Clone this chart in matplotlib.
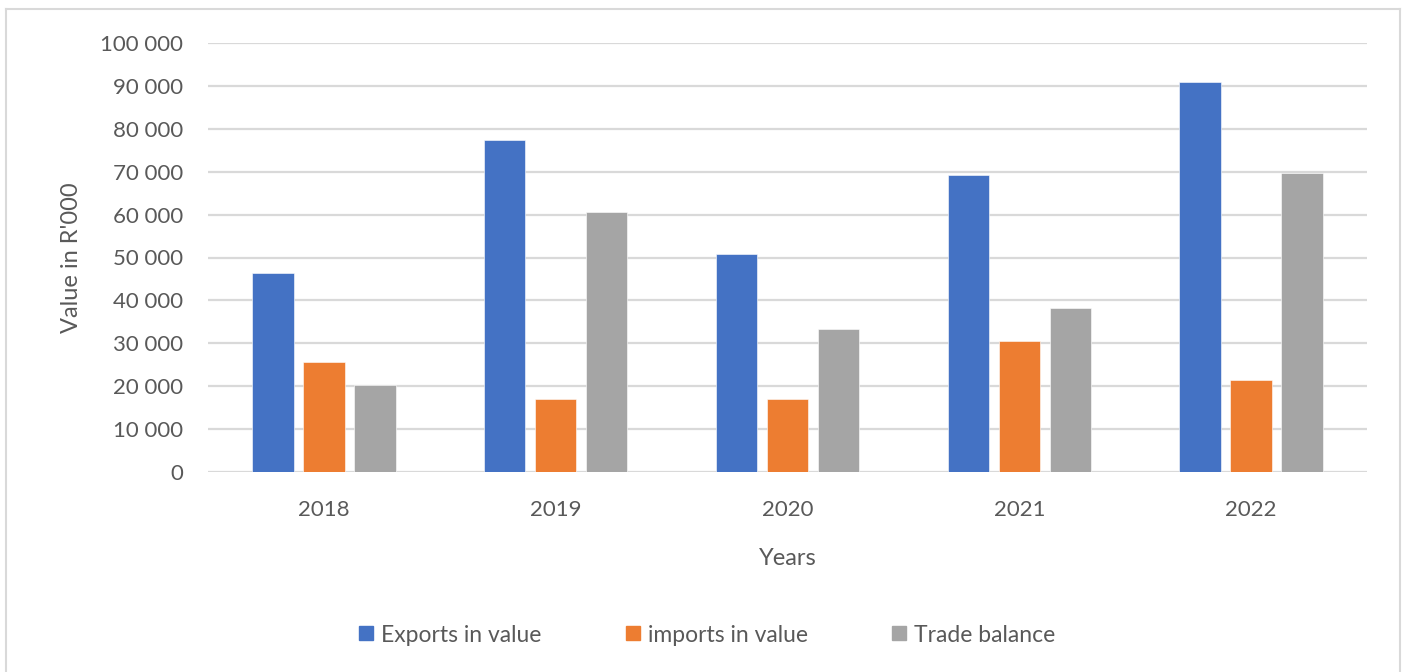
import numpy as np
import matplotlib
matplotlib.use('Agg')
import matplotlib.pyplot as plt
from matplotlib.lines import Line2D

plt.rcParams['font.family'] = ['Lato', 'DejaVu Sans']

years = ['2018', '2019', '2020', '2021', '2022']
exports = [46400, 77400, 50700, 69200, 90900]
imports = [25700, 17100, 17100, 30600, 21400]
balance = [20200, 60500, 33300, 38200, 69800]

series_names = ['Exports in value', 'imports in value', 'Trade balance']
colors = ['#4472C4', '#ED7D31', '#A5A5A5']
text_grey = '#595959'
grid_grey = '#d9d9d9'

W, H = 1405, 672
fig = plt.figure(figsize=(W / 100, H / 100), dpi=100)
fig.patch.set_facecolor('white')

ax = fig.add_axes([208 / W, 1 - 472 / H, (1367 - 208) / W, (472 - 43) / H])

x = np.arange(len(years))
step = 0.22
width = 0.178
for i, (vals, name, c) in enumerate(zip([exports, imports, balance], series_names, colors)):
    ax.bar(x + (i - 1) * step, vals, width, color=c, label=name, zorder=3,
           edgecolor='white', linewidth=0.4)

ax.set_xlim(-0.5, len(years) - 0.5)
ax.set_ylim(0, 100000)
ax.set_yticks(np.arange(0, 100001, 10000))
ax.set_yticklabels([f'{v:,}'.replace(',', ' ') for v in range(0, 100001, 10000)])
ax.set_xticks(x)
ax.set_xticklabels(years)
ax.yaxis.grid(True, color=grid_grey, linewidth=1.6, zorder=0)
ax.set_axisbelow(True)
for s in ax.spines.values():
    s.set_visible(False)
ax.tick_params(length=0, labelsize=16, colors=text_grey)
ax.tick_params(axis='y', pad=18)
ax.tick_params(axis='x', pad=20)

ax.set_xlabel('Years', fontsize=17, color=text_grey, labelpad=20)
ax.set_ylabel("Value in R'000", fontsize=17, color=text_grey, labelpad=13)

handles = [Line2D([], [], marker='s', linestyle='none', markersize=10,
                  markerfacecolor=c, markeredgecolor=c) for c in colors]
fig.legend(handles, series_names, loc='center', bbox_to_anchor=(706 / W, 1 - 635 / H),
           ncol=3, frameon=False, fontsize=16.5, labelcolor=text_grey,
           handletextpad=0.25, columnspacing=3.6, handlelength=0.8)

# light outer frame of the chart area
border = dict(color=grid_grey, linewidth=1.5, transform=fig.transFigure, clip_on=False)
fig.add_artist(Line2D([6 / W, 6 / W], [0, 1 - 9 / H], **border))
fig.add_artist(Line2D([6 / W, 1400 / W], [1 - 9 / H, 1 - 9 / H], **border))
fig.add_artist(Line2D([1400 / W, 1400 / W], [0, 1 - 9 / H], **border))

fig.savefig('out.png', dpi=100)
